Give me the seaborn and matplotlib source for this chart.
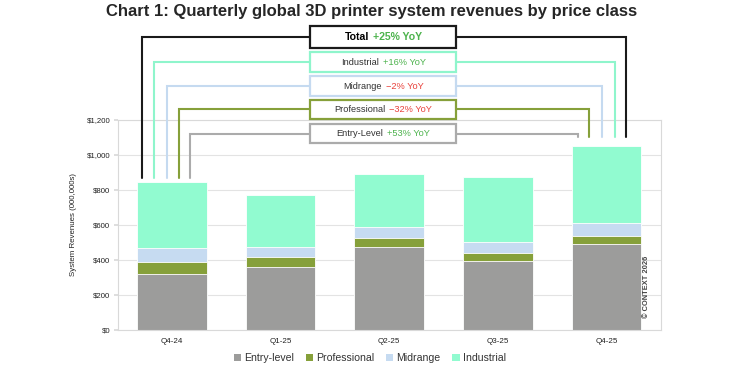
import matplotlib
matplotlib.use('Agg')
import matplotlib.pyplot as plt
import matplotlib.transforms as mtransforms
from matplotlib.patches import Rectangle, Patch
import seaborn as sns
import numpy as np

# data (US$ m)
quarters = ['Q4-24', 'Q1-25', 'Q2-25', 'Q3-25', 'Q4-25']
entry_level = [320, 358, 476, 394, 489]
professional = [68, 57, 50, 44, 46]
midrange = [80, 57, 65, 65, 78]
industrial = [378, 301, 299, 369, 440]

segment_names = ['Entry-level', 'Professional', 'Midrange', 'Industrial']
segment_colors = ['#9c9c9b', '#86a03a', '#c6dbf1', '#91fbd0']

# YoY callouts (top to bottom)
callout_names = ['Total', 'Industrial', 'Midrange', 'Professional', 'Entry-Level']
callout_yoy = ['+25% YoY', '+16% YoY', '\u22122% YoY', '\u221232% YoY', '+53% YoY']
callout_colors = ['#1a1a1a', '#8ff5cc', '#c5daf0', '#86a03a', '#ababab']

sns.set_theme(style='white')
plt.rcParams['font.family'] = ['Liberation Sans', 'DejaVu Sans']

fig, ax = plt.subplots(figsize=(7.5, 3.75), dpi=100)
fig.subplots_adjust(left=0.157, right=0.881, bottom=0.12, top=0.68)

stack = np.cumsum([entry_level, professional, midrange, industrial], axis=0)
for i in reversed(range(4)):
    sns.barplot(x=quarters, y=stack[i], color=segment_colors[i], saturation=1,
                width=0.64, edgecolor='white', linewidth=0.6, ax=ax)

ax.set_xlim(-0.5, 4.5)
ax.set_ylim(0, 1200)
ax.set_yticks(range(0, 1201, 200))
ax.set_yticklabels(['$0', '$200', '$400', '$600', '$800', '$1,000', '$1,200'])
ax.yaxis.grid(True, color='#e3e3e3', lw=0.8)
ax.set_axisbelow(True)
for s in ax.spines.values():
    s.set_color('#d9d9d9')
    s.set_linewidth(0.8)
ax.set_xticks(np.arange(0.5, 4, 1), minor=True)
ax.tick_params(axis='x', which='major', length=0, labelsize=5.8, pad=6, colors='#222222')
ax.tick_params(axis='x', which='minor', length=3, color='#d9d9d9', direction='out')
ax.tick_params(axis='y', length=3, direction='out', labelsize=5.6, pad=2.5, left=True,
               colors='#d9d9d9', labelcolor='#222222')
ax.set_xlabel('')
ax.set_ylabel('System Revenues (000,000s)', fontsize=5.7, color='#222222', labelpad=7)

ax.text(0.974, 0.057, '\u00a9 CONTEXT 2026', transform=ax.transAxes, rotation=90,
        ha='center', va='bottom', fontsize=5.4, fontweight='bold', color='#444444')

# bracket callouts above the bars
totals = stack[-1]
left_x = [-0.273, -0.166, -0.042, 0.062, 0.163]
right_x = [4.184, 4.076, 3.963, 3.84, 3.74]
levels = [1672, 1531, 1393, 1260, 1122]
heights = [126, 112, 112, 112, 112]
bx0, bx1 = 1.274, 2.619
left_bottom = totals[0] + 23
right_bottom = totals[-1] + 48

labels = []
for k in range(5):
    c = callout_colors[k]
    y = levels[k]
    ax.plot([left_x[k], left_x[k], bx0], [left_bottom, y, y], color=c, lw=1.5,
            clip_on=False, solid_joinstyle='miter', zorder=4)
    ax.plot([bx1, right_x[k], right_x[k]], [y, y, right_bottom], color=c, lw=1.5,
            clip_on=False, solid_joinstyle='miter', zorder=4)
    ax.add_patch(Rectangle((bx0, y - heights[k] / 2), bx1 - bx0, heights[k], facecolor='white',
                           edgecolor=c, lw=1.6, clip_on=False, zorder=5))
    total_row = k == 0
    size = 7.6 if total_row else 6.7
    weight = 'bold' if total_row else 'normal'
    yc = '#e8413b' if callout_yoy[k].startswith('\u2212') else '#4db34d'
    t1 = ax.text(0, y, callout_names[k], ha='left', va='center', fontsize=size,
                 fontweight=weight, color='black' if total_row else '#333333', zorder=6, clip_on=False)
    t2 = ax.text(0, y, callout_yoy[k], ha='left', va='center', fontsize=size,
                 fontweight=weight, color=yc, zorder=6, clip_on=False)
    labels.append((t1, t2, size))

fig.canvas.draw()
r = fig.canvas.get_renderer()
cx = (bx0 + bx1) / 2
for t1, t2, size in labels:
    w1 = t1.get_window_extent(r).width * 72 / fig.dpi
    w2 = t2.get_window_extent(r).width * 72 / fig.dpi
    gap = size * 0.4
    start = -(w1 + gap + w2) / 2
    t1.set_x(cx)
    t2.set_x(cx)
    t1.set_transform(mtransforms.offset_copy(ax.transData, fig=fig, x=start, y=0, units='points'))
    t2.set_transform(mtransforms.offset_copy(ax.transData, fig=fig, x=start + w1 + gap, y=0, units='points'))

handles = [Patch(facecolor=segment_colors[i], edgecolor='none') for i in range(4)]
fig.legend(handles, segment_names, loc='center', bbox_to_anchor=(0.493, 0.045), ncol=4,
           frameon=False, fontsize=7.6, handlelength=0.7, handleheight=0.7,
           handletextpad=0.3, columnspacing=1.1, labelcolor='#333333')

fig.suptitle('Chart 1: Quarterly global 3D printer system revenues by price class',
             fontsize=12, fontweight='bold', y=0.99, x=0.495)

fig.savefig('out.png', dpi=100)
